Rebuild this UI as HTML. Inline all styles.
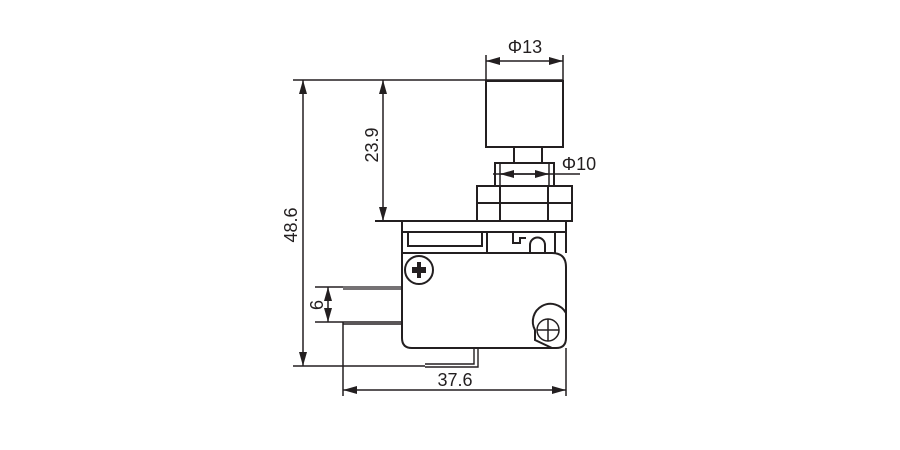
<!DOCTYPE html>
<html><head><style>body{margin:0;background:#fff}svg{display:block}</style></head><body>
<svg width="900" height="450" viewBox="0 0 900 450" xmlns="http://www.w3.org/2000/svg">
<defs>
<marker id="a" viewBox="0 0 10 10" refX="10" refY="5" markerWidth="14" markerHeight="8" orient="auto-start-reverse" markerUnits="userSpaceOnUse" preserveAspectRatio="none"><path d="M0,0 L10,5 L0,10 z" fill="#231f20"/></marker>
</defs>
<g stroke="#231f20" stroke-width="1.5" fill="none" font-family="Liberation Sans, sans-serif">
<line x1="293" y1="80" x2="563" y2="80"/>
<rect x="486" y="81" width="77" height="66" stroke-width="2"/>
<line x1="486" y1="55" x2="486" y2="81"/>
<line x1="563" y1="55" x2="563" y2="81"/>
<line x1="486" y1="61" x2="563" y2="61" marker-start="url(#a)" marker-end="url(#a)"/>
<line x1="514" y1="147" x2="514" y2="163" stroke-width="2"/>
<line x1="542" y1="147" x2="542" y2="163" stroke-width="2"/>
<rect x="495" y="163" width="59" height="23" stroke-width="2"/>
<line x1="500" y1="163" x2="500" y2="186"/>
<line x1="549" y1="163" x2="549" y2="186"/>
<line x1="493" y1="174" x2="580" y2="174"/>
<line x1="500" y1="174" x2="549" y2="174" marker-start="url(#a)" marker-end="url(#a)"/>
<rect x="477" y="186" width="95" height="35" stroke-width="2"/>
<line x1="477" y1="203" x2="572" y2="203" stroke-width="2"/>
<line x1="500" y1="186" x2="500" y2="221" stroke-width="2"/>
<line x1="548" y1="186" x2="548" y2="221" stroke-width="2"/>
<line x1="375" y1="221" x2="566" y2="221" stroke-width="2"/>
<line x1="402" y1="221" x2="402" y2="253" stroke-width="2"/>
<line x1="566" y1="221" x2="566" y2="253" stroke-width="2"/>
<line x1="402" y1="232" x2="566" y2="232" stroke-width="2"/>
<rect x="408" y="232" width="74" height="14" stroke-width="2"/>
<line x1="487" y1="232" x2="487" y2="253" stroke-width="2"/>
<path d="M513 232 V243 H520 V238 H526" stroke-width="2"/>
<path d="M530 253 V245 A7 7 0 0 1 545 245 V253" stroke-width="2"/>
<line x1="555" y1="232" x2="555" y2="253" stroke-width="2"/>
<path d="M402 253 H552 Q566 253 566 267 V338 Q566 348 556 348 H412 Q402 348 402 338 Z" stroke-width="2"/>
<circle cx="419" cy="270" r="14" stroke-width="2"/>
<path d="M412 267 H417 V262 H421 V267 H426 V273 H421 V278 H417 V273 H412 Z" fill="#231f20" stroke="none"/>
<path d="M566 313 A16 16 0 0 0 535 330 L535 340 L552 348" stroke-width="2"/>
<circle cx="548" cy="330" r="11"/>
<line x1="537" y1="330" x2="559" y2="330"/>
<line x1="548" y1="319" x2="548" y2="341"/>
<path d="M343 287 H402 M343 289 H402" stroke-width="1.2"/>
<path d="M343 322 H402 M343 324 H402" stroke-width="1.6"/>
<line x1="343" y1="322" x2="343" y2="396"/>
<path d="M474 348 V364 H425 M478 348 V367 H425" stroke-width="1.4"/>
<line x1="293" y1="366" x2="425" y2="366"/>
<line x1="315" y1="287" x2="343" y2="287"/>
<line x1="315" y1="322" x2="343" y2="322"/>
<line x1="328" y1="287" x2="328" y2="322" marker-start="url(#a)" marker-end="url(#a)"/>
<line x1="303" y1="80" x2="303" y2="366" marker-start="url(#a)" marker-end="url(#a)"/>
<line x1="383" y1="80" x2="383" y2="221" marker-start="url(#a)" marker-end="url(#a)"/>
<line x1="566" y1="348" x2="566" y2="396"/>
<line x1="343" y1="390" x2="566" y2="390" marker-start="url(#a)" marker-end="url(#a)"/>
</g>
<g fill="#231f20" font-family="Liberation Sans, sans-serif" font-size="18">
<text x="525" y="53" text-anchor="middle">Φ13</text>
<text x="579" y="170" text-anchor="middle">Φ10</text>
<text x="455" y="386" text-anchor="middle">37.6</text>
<text transform="translate(378,145) rotate(-90)" text-anchor="middle">23.9</text>
<text transform="translate(297,225) rotate(-90)" text-anchor="middle">48.6</text>
<text transform="translate(323,305) rotate(-90)" text-anchor="middle">6</text>
</g>
</svg>
</body></html>
